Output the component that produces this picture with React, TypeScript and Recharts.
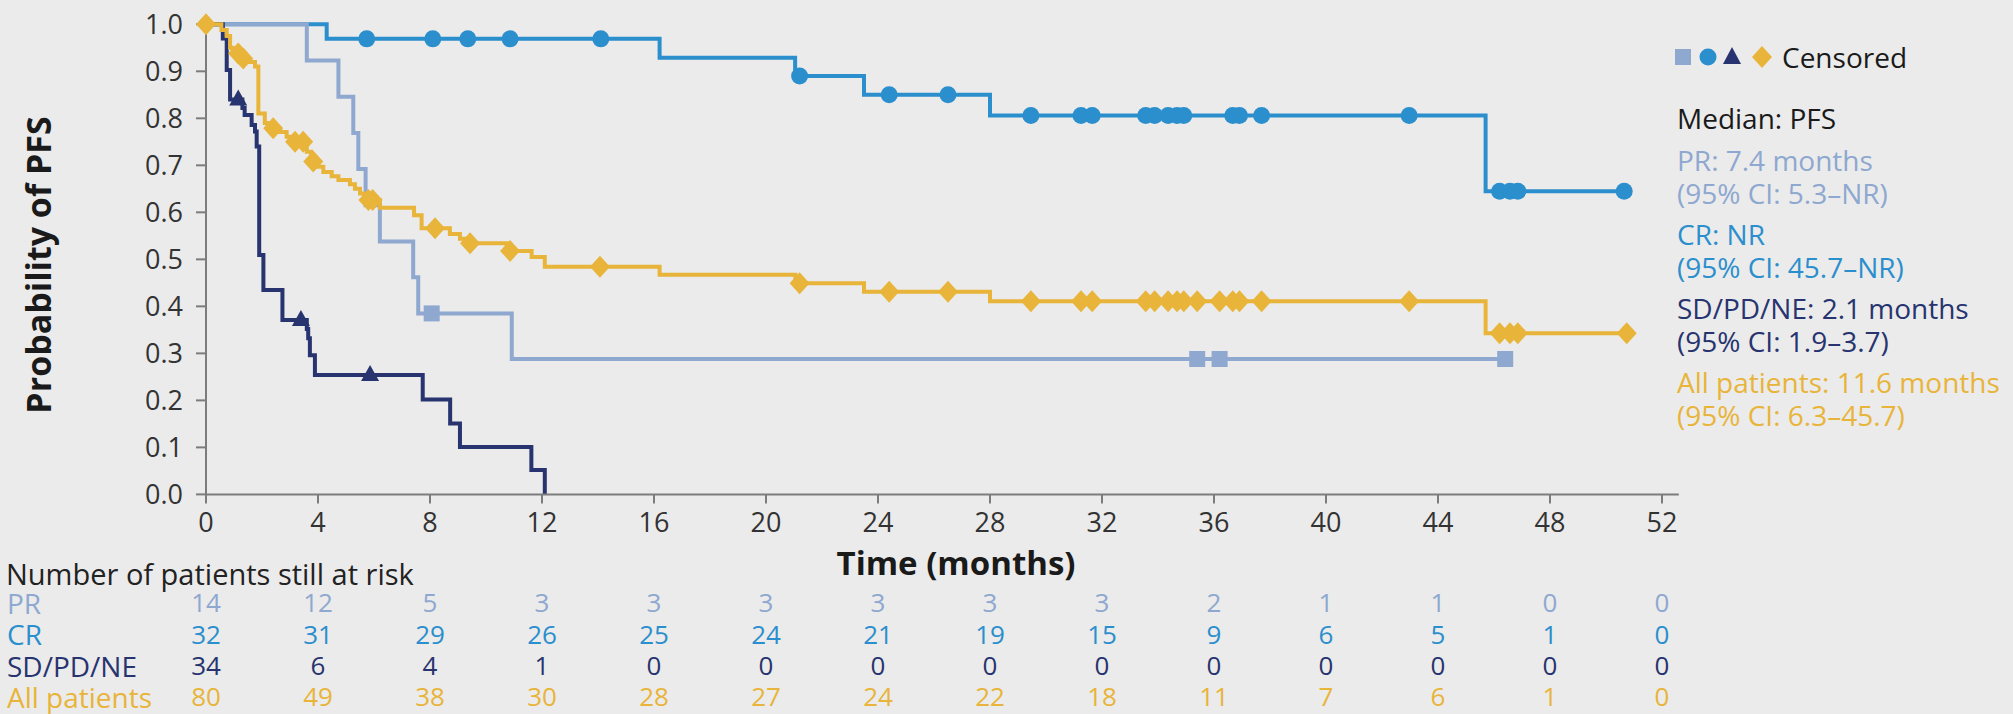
import React from 'react';
import { ComposedChart, Line, Scatter, XAxis, YAxis } from 'recharts';

const FONT = '"Open Sans", "Noto Sans", sans-serif';
const BG = '#ebebeb';
const PR_C = '#8ea8d0';
const CR_C = '#2b8fcd';
const SD_C = '#27346f';
const ALL_C = '#e8b43a';
const AXIS_C = '#7c7c7c';

const monthTicks = [0, 4, 8, 12, 16, 20, 24, 28, 32, 36, 40, 44, 48, 52];
const probTicks = [0, 0.1, 0.2, 0.3, 0.4, 0.5, 0.6, 0.7, 0.8, 0.9, 1];

// Kaplan-Meier steps: [time (months), probability]
const prSteps = [[0, 1], [3.6, 0.923], [4.73, 0.846], [5.26, 0.769], [5.44, 0.692], [5.7, 0.615], [6.21, 0.538], [7.4, 0.462], [7.58, 0.385], [10.92, 0.288]];
const prCensored = [8.06, 35.4, 36.2, 46.4];

const crSteps = [[0, 1], [4.31, 0.969], [16.2, 0.929], [21.04, 0.89], [23.5, 0.85], [28.0, 0.806], [45.7, 0.645]];
const crCensored = [5.74, 8.1, 9.35, 10.86, 14.1, 21.2, 24.4, 26.5, 29.46, 31.25, 31.65, 33.56, 33.88, 34.36, 34.68, 34.92, 36.67, 36.91, 37.7, 42.97, 46.2, 46.57, 46.85, 50.65];

const sdSteps = [[0, 1], [0.6, 0.97], [0.74, 0.903], [0.86, 0.84], [1.3, 0.822], [1.38, 0.807], [1.63, 0.786], [1.75, 0.772], [1.81, 0.74], [1.9, 0.509], [2.05, 0.435], [2.73, 0.371], [3.6, 0.352], [3.65, 0.332], [3.71, 0.296], [3.89, 0.254], [7.74, 0.202], [8.72, 0.151], [9.07, 0.101], [11.62, 0.052], [12.1, 0]];
const sdCensored = [1.15, 3.39, 5.86];

const allSteps = [[0, 1], [0.55, 0.988], [0.74, 0.975], [0.86, 0.95], [0.95, 0.938], [1.25, 0.927], [1.5, 0.92], [1.75, 0.91], [1.87, 0.81], [2.1, 0.79], [2.2, 0.779], [2.64, 0.771], [2.88, 0.761], [3.0, 0.75], [3.6, 0.729], [3.75, 0.708], [4.01, 0.697], [4.19, 0.686], [4.49, 0.677], [4.73, 0.669], [5.14, 0.66], [5.32, 0.65], [5.5, 0.64], [5.65, 0.626], [6.21, 0.61], [7.43, 0.594], [7.7, 0.566], [8.71, 0.554], [9.07, 0.544], [9.25, 0.534], [10.74, 0.518], [11.63, 0.505], [12.1, 0.484], [16.2, 0.467], [21.05, 0.449], [23.5, 0.431], [28.0, 0.411], [45.7, 0.343]];
const allCensored = [0, 1.15, 1.33, 2.4, 3.18, 3.47, 3.83, 5.8, 5.95, 8.18, 9.43, 10.86, 14.07, 21.2, 24.4, 26.5, 29.46, 31.25, 31.65, 33.56, 33.88, 34.36, 34.68, 34.92, 35.4, 36.2, 36.67, 36.91, 37.7, 42.97, 46.2, 46.57, 46.85, 50.74];

// number at risk, one value per month tick
const riskPR = [14, 12, 5, 3, 3, 3, 3, 3, 3, 2, 1, 1, 0, 0];
const riskCR = [32, 31, 29, 26, 25, 24, 21, 19, 15, 9, 6, 5, 1, 0];
const riskSD = [34, 6, 4, 1, 0, 0, 0, 0, 0, 0, 0, 0, 0, 0];
const riskAll = [80, 49, 38, 30, 28, 27, 24, 22, 18, 11, 7, 6, 1, 0];

// axis ids sort alphabetically in recharts, so keep them ordered
const riskRows = [
  { id: 'r1PR', label: 'PR', color: PR_C, values: riskPR },
  { id: 'r2CR', label: 'CR', color: CR_C, values: riskCR },
  { id: 'r3SD', label: 'SD/PD/NE', color: SD_C, values: riskSD },
  { id: 'r4All', label: 'All patients', color: ALL_C, values: riskAll },
];

const medianText = [
  { color: PR_C, lines: ['PR: 7.4 months', '(95% CI: 5.3\u2013NR)'] },
  { color: CR_C, lines: ['CR: NR', '(95% CI: 45.7\u2013NR)'] },
  { color: SD_C, lines: ['SD/PD/NE: 2.1 months', '(95% CI: 1.9\u20133.7)'] },
  { color: ALL_C, lines: ['All patients: 11.6 months', '(95% CI: 6.3\u201345.7)'] },
];

const levelAt = (steps: number[][], t: number) => {
  let s = 1;
  for (const [x, y] of steps) if (x <= t) s = y;
  return s;
};

const lineData = (steps: number[][], censored: number[]) => {
  const pts = steps.map(([t, s]) => ({ t, s }));
  const last = Math.max(...censored);
  if (last > steps[steps.length - 1][0]) pts.push({ t: last, s: levelAt(steps, last) });
  return pts;
};

const censorData = (steps: number[][], censored: number[]) => censored.map((t) => ({ t, s: levelAt(steps, t) }));

const SquareMark = (p: any) => <rect x={p.cx - 8} y={p.cy - 8} width={16} height={16} fill={PR_C} />;
const CircleMark = (p: any) => <circle cx={p.cx} cy={p.cy} r={8.5} fill={CR_C} />;
const TriMark = (p: any) => <polygon points={`${p.cx},${p.cy - 10} ${p.cx + 9},${p.cy + 6} ${p.cx - 9},${p.cy + 6}`} fill={SD_C} />;
const DiamondMark = (p: any) => <polygon points={`${p.cx},${p.cy - 11} ${p.cx + 10},${p.cy} ${p.cx},${p.cy + 11} ${p.cx - 10},${p.cy}`} fill={ALL_C} />;

const textAt = (top: number, left: number, color: string, size: number, text: string, weight = 400) => (
  <div key={text} style={{ position: 'absolute', left, top: top - 14, lineHeight: '28px', fontSize: size, color, fontWeight: weight, whiteSpace: 'nowrap' }}>{text}</div>
);

export default function App() {
  return (
    <div style={{ position: 'absolute', left: 0, top: 0, width: 2013, height: 714, background: BG, fontFamily: FONT, overflow: 'hidden' }}>
      <ComposedChart width={2013} height={714} margin={{ top: 24.3, right: 334.2, bottom: 4.4, left: 0 }}>
        <XAxis xAxisId="main" dataKey="t" type="number" domain={[0, 52.6]} ticks={monthTicks} interval={0}
          stroke={AXIS_C} strokeWidth={2} tickSize={9} tickMargin={9} height={90}
          tick={{ fill: '#333', fontSize: 27, fontFamily: FONT }} />
        {riskRows.map((row) => (
          <XAxis key={row.id} xAxisId={row.id} dataKey="t" type="number" domain={[0, 52.6]} allowDataOverflow ticks={monthTicks} interval={0}
            axisLine={false} tickLine={false} tickSize={0} tickMargin={9.4} height={31.3}
            tick={{ fill: row.color, fontSize: 26, fontFamily: FONT }}
            tickFormatter={(v: number) => String(row.values[monthTicks.indexOf(v)])} />
        ))}
        <YAxis dataKey="s" type="number" domain={[0, 1]} ticks={probTicks} interval={0} width={206}
          stroke={AXIS_C} strokeWidth={2} tickSize={10} tickMargin={13}
          tick={{ fill: '#333', fontSize: 27, fontFamily: FONT }} tickFormatter={(v: number) => v.toFixed(1)} />
        <Line xAxisId="main" data={lineData(crSteps, crCensored)} dataKey="s" type="stepAfter" stroke={CR_C} strokeWidth={4} dot={false} isAnimationActive={false} />
        <Line xAxisId="main" data={lineData(prSteps, prCensored)} dataKey="s" type="stepAfter" stroke={PR_C} strokeWidth={4} dot={false} isAnimationActive={false} />
        <Line xAxisId="main" data={lineData(sdSteps, sdCensored)} dataKey="s" type="stepAfter" stroke={SD_C} strokeWidth={4} dot={false} isAnimationActive={false} />
        <Line xAxisId="main" data={lineData(allSteps, allCensored)} dataKey="s" type="stepAfter" stroke={ALL_C} strokeWidth={4} dot={false} isAnimationActive={false} />
        <Scatter xAxisId="main" data={censorData(crSteps, crCensored)} dataKey="s" shape={CircleMark} isAnimationActive={false} />
        <Scatter xAxisId="main" data={censorData(prSteps, prCensored)} dataKey="s" shape={SquareMark} isAnimationActive={false} />
        <Scatter xAxisId="main" data={censorData(sdSteps, sdCensored)} dataKey="s" shape={TriMark} isAnimationActive={false} />
        <Scatter xAxisId="main" data={censorData(allSteps, allCensored)} dataKey="s" shape={DiamondMark} isAnimationActive={false} />
      </ComposedChart>

      <div style={{ position: 'absolute', left: 38, top: 265, transform: 'translate(-50%, -50%) rotate(-90deg)', fontSize: 34, fontWeight: 700, color: '#1a1a1a', whiteSpace: 'nowrap' }}>
        Probability of PFS
      </div>
      <div style={{ position: 'absolute', left: 956, top: 562, transform: 'translate(-50%, -50%)', fontSize: 33, fontWeight: 700, color: '#1a1a1a', whiteSpace: 'nowrap' }}>
        Time (months)
      </div>

      {textAt(574, 6, '#222', 29, 'Number of patients still at risk')}
      {riskRows.map((row, i) => textAt(603 + i * 31.3, 7, row.color, 28, row.label))}

      <svg style={{ position: 'absolute', left: 1672, top: 44 }} width={106} height={26}>
        <rect x={3} y={5} width={16} height={16} fill={PR_C} />
        <circle cx={36} cy={13} r={8.5} fill={CR_C} />
        <polygon points="60,3 69,20 51,20" fill={SD_C} />
        <polygon points="90,2 100,13 90,24 80,13" fill={ALL_C} />
      </svg>
      {textAt(57, 1782, '#1a1a1a', 28, 'Censored')}
      {textAt(118, 1677, '#1a1a1a', 28, 'Median: PFS')}
      {medianText.map((m, i) => (
        <React.Fragment key={m.lines[0]}>
          {textAt(160 + i * 74, 1677, m.color, 28, m.lines[0])}
          {textAt(192.5 + i * 74, 1677, m.color, 28, m.lines[1])}
        </React.Fragment>
      ))}
    </div>
  );
}
